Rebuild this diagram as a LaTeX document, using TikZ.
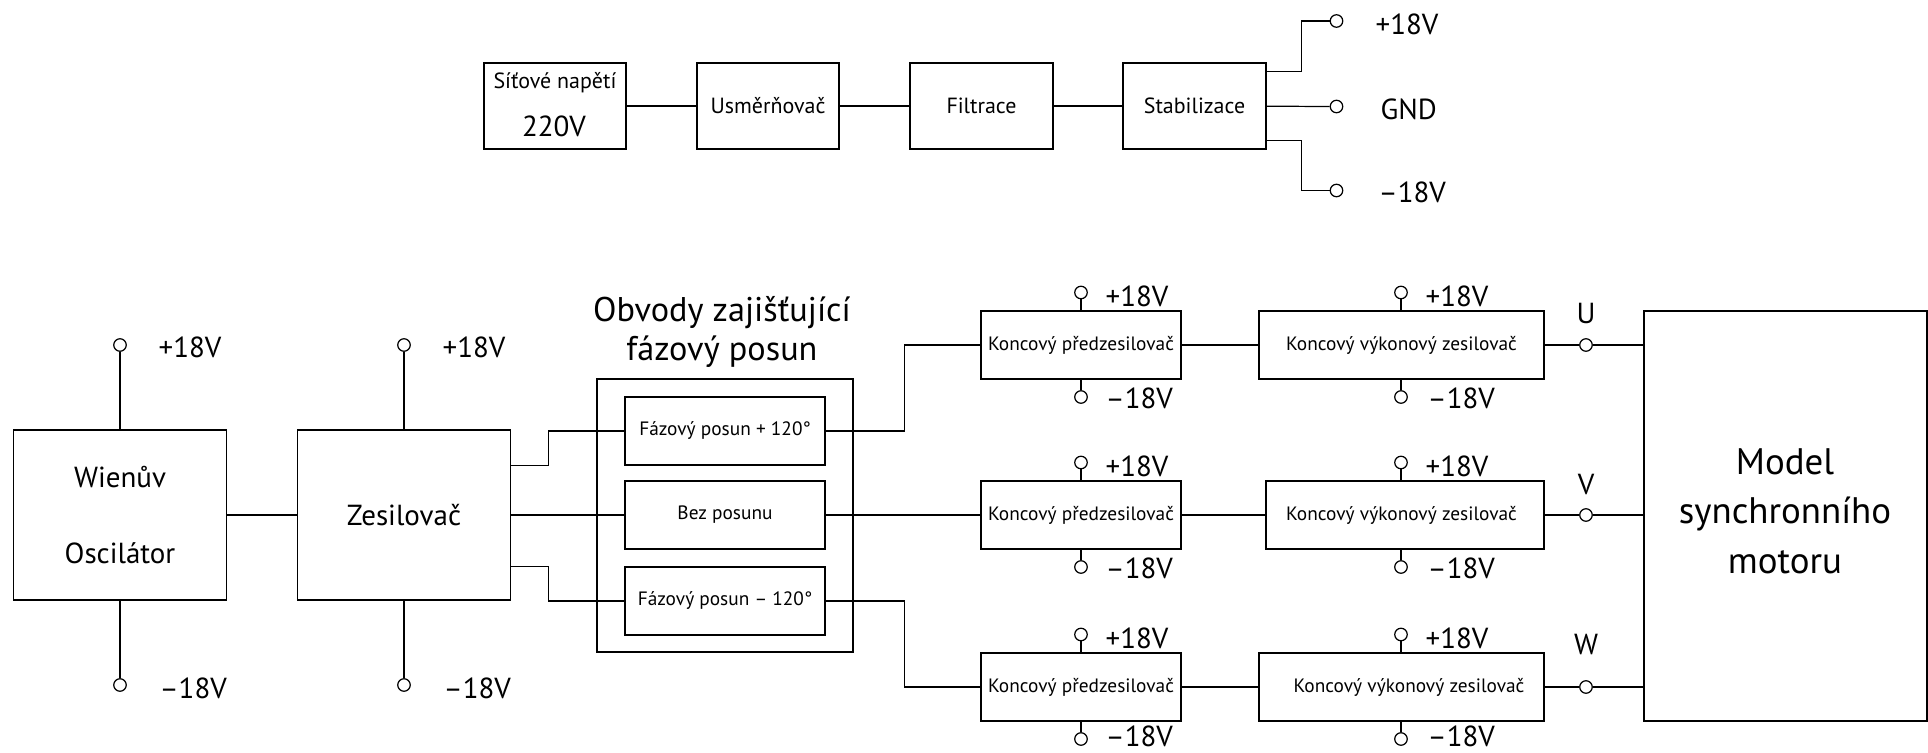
\documentclass[tikz,border=0pt]{standalone}
\usepackage{fontspec}
\setmainfont{PT Sans}
\usetikzlibrary{calc}

\newcommand\pxu{0.02cm}	%one pixel of the layout

\tikzset{
	blok/.style 2 args={draw, rectangle, inner sep=0pt, minimum width=#1*\pxu, minimum height=#2*\pxu},
	svorka/.style={draw, circle, inner sep=0pt, minimum size=12.5*\pxu},
	napeti/.style={anchor=west, inner sep=0pt, font=\fontsize{16.5}{20}\selectfont},
	popis/.style={font=\fontsize{11}{13}\selectfont},
	popisvelky/.style={font=\fontsize{12.5}{15}\selectfont},
	stredni/.style={font=\fontsize{16.5}{20}\selectfont},
	nadpis/.style={align=center, inner sep=0pt, font=\fontsize{19.5}{22.2}\selectfont},
}

\begin{document}
\begin{tikzpicture}[x=\pxu, y=-\pxu, line width=0.7pt]
	\useasboundingbox (0,0) rectangle (1928,753);

	%napajeni
	\node[blok={142}{86}] (sit) at (555,106) {};
	\node[popisvelky, inner sep=0pt] (sit1) at (555,83) {Síťové napětí};
	\node[stredni, inner sep=0pt] (sit2) at (554,126) {220V};
	\node[blok={142}{86}, popisvelky] (usm) at (768,106) {Usměrňovač};
	\node[blok={143}{86}, popisvelky] (fil) at (981.5,106) {Filtrace};
	\node[blok={143}{86}, popisvelky] (stab) at (1194.5,106) {Stabilizace};
	\draw (sit) -- (usm) -- (fil) -- (stab);

	\node[svorka] (tp) at (1336.5,21) {};
	\node[svorka] (tg) at (1336.5,106.5) {};
	\node[svorka] (tm) at (1336.5,190.5) {};
	\node[napeti] (tpl) at (1375,24) {+18V};
	\node[napeti] (tgl) at (1380,109) {GND};
	\node[napeti] (tml) at (1378,192.5) {--18V};
	\draw (tp) -- ++(-35,0) |- ($(stab.north east)+(0,9)$);
	\draw (stab) -- (tg);
	\draw (tm) -- ++(-35,0) |- ($(stab.south east)+(0,-9)$);

	%oscilator a zesilovac
	\node[blok={213}{170}] (osc) at (120,515) {};
	\node[stredni, inner sep=0pt] (osc1) at (120,477) {Wienův};
	\node[stredni, inner sep=0pt] (osc2) at (120,553) {Oscilátor};
	\node[blok={213}{170}, stredni] (zes) at (404,515) {Zesilovač};
	\draw (osc) -- (zes);

	\foreach \b/\x in {osc/120, zes/404}{
		\node[svorka] (\b-p) at (\x,345) {};
		\node[svorka] (\b-m) at (\x,685) {};
		\node[napeti] (\b-pl) at (\x+38,347) {+18V};
		\node[napeti] (\b-ml) at (\x+39,688) {--18V};
		\draw (\b-p) -- (\b);
		\draw (\b-m) -- (\b);
	}

	%fazovy posun
	\node[blok={256}{273}] (grp) at (725,515.5) {};
	\node[nadpis] (grpt) at (722,332) {Obvody zajišťující\\fázový posun};
	\node[blok={200}{68}, popis] (fp) at (725,431) {Fázový posun + 120°};
	\node[blok={200}{68}, popis] (bez) at (725,515) {Bez posunu};
	\node[blok={200}{68}, popis] (fm) at (725,601) {Fázový posun -- 120°};
	\draw (zes.east |- fp.south) -- ++(37,0) |- (fp);
	\draw (zes) -- (bez);
	\draw (zes.east |- fm.north) -- ++(37,0) |- (fm);

	%motor
	\node[blok={283}{410}] (mot) at (1785.5,516) {};
	\node[nadpis, font=\fontsize{21}{28.2}\selectfont] (mott) at (1785,511) {Model\\synchronního\\motoru};

	%koncove zesilovace, tri faze
	\foreach \r/\y/\vx/\vw/\tx/\f/\ly/\mo in {1/345/1401.5/285/1401.5/U/313.5/53, 2/515/1405/278/1401.5/V/485/53, 3/687/1401.5/285/1409/W/645/49}{
		\node[blok={200}{68}, popis] (pz\r) at (1081,\y) {Koncový předzesilovač};
		\node[blok={\vw}{68}] (vk\r) at (\vx,\y) {};
		\node[popis, inner sep=0pt] (vk\r-t) at (\tx,\y) {Koncový výkonový zesilovač};
		\node[svorka] (pz\r-p) at (1081,\y-52.5) {};
		\node[svorka] (pz\r-m) at (1081,\y+52) {};
		\node[svorka] (vk\r-p) at (1401,\y-52.5) {};
		\node[svorka] (vk\r-m) at (1401,\y+52) {};
		\node[napeti] (pz\r-pl) at (1105,\y-49) {+18V};
		\node[napeti] (pz\r-ml) at (1105,\y+\mo) {--18V};
		\node[napeti] (vk\r-pl) at (1425,\y-49) {+18V};
		\node[napeti] (vk\r-ml) at (1427,\y+\mo) {--18V};
		\draw (pz\r-p) -- (pz\r-p |- pz\r.north);
		\draw (pz\r-m) -- (pz\r-m |- pz\r.south);
		\draw (vk\r-p) -- (vk\r-p |- vk\r.north);
		\draw (vk\r-m) -- (vk\r-m |- vk\r.south);
		\node[svorka] (out\r) at (1586,\y) {};
		\node[napeti, anchor=center] (out\r-l) at (1586,\ly) {\f};
		\draw (pz\r) -- (vk\r);
		\draw (vk\r) -- (out\r) -- (mot.west |- out\r);
	}
	\draw (fp.east) -- ++(79,0) |- (pz1);
	\draw (bez) -- (pz2);
	\draw (fm.east) -- ++(79,0) |- (pz3);
\end{tikzpicture}
\end{document}
